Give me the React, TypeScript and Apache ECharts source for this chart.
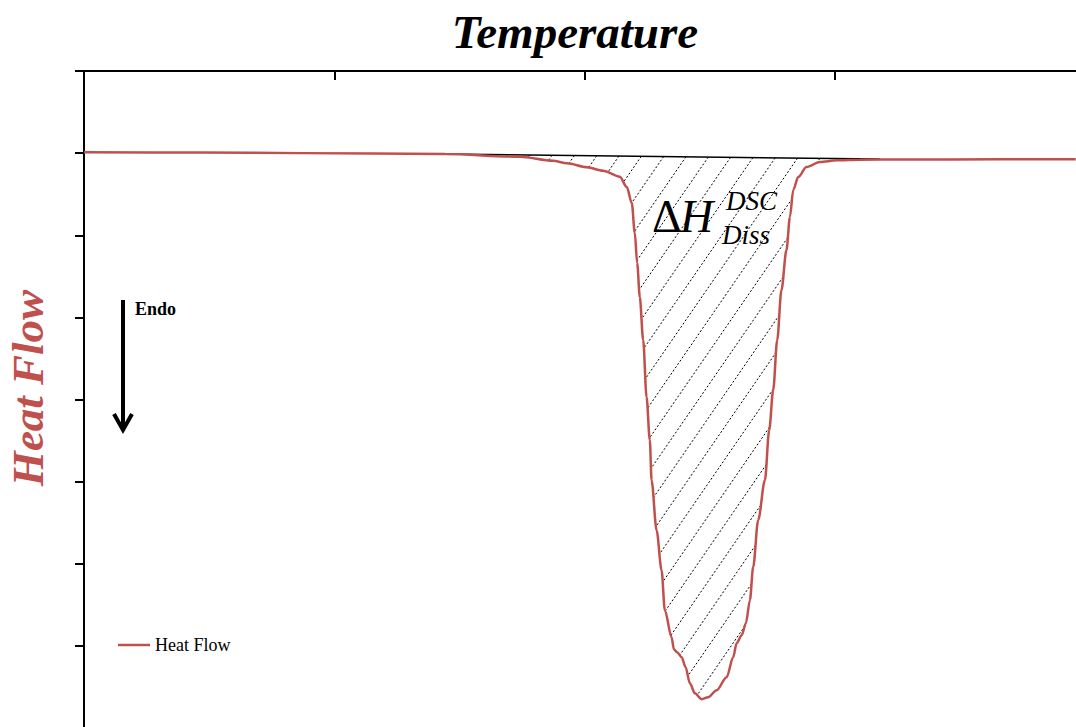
import React, { useEffect, useRef } from "react";
import * as echarts from "echarts";

// Temperature (arbitrary units, tick every 100) and heat flow (arbitrary units, tick every 1)
const temperature = [
  0, 46.3, 86.3, 144.2, 174.2, 187.4, 193.0, 201.0, 207.4, 214.1, 216.9, 218.9, 220.1,
  221.05, 222.1, 223.45, 224.8, 226.1, 226.8, 228.8, 230.8, 232.1, 234.8, 235.7, 237.0,
  238.8, 240.4, 242.1, 244.1, 246.8, 249.4, 252.8, 256.8, 259.4, 260.8, 262.8, 264.5,
  266.1, 267.4, 269.4, 272.1, 273.8, 275.4, 277.0, 278.7, 280.7, 282.1, 283.4, 285.4,
  288.7, 294.1, 300.8, 310.0, 326.0, 366.0, 396.3,
];
const heatFlow = [
  0.01, 0.007, 0.0, -0.011, -0.044, -0.093, -0.124, -0.173, -0.214, -0.287, -0.413,
  -0.608, -0.973, -1.339, -1.753, -2.277, -2.971, -3.495, -3.982, -4.591, -5.078,
  -5.566, -5.894, -6.04, -6.077, -6.138, -6.26, -6.455, -6.577, -6.649, -6.625, -6.54,
  -6.382, -6.138, -5.967, -5.87, -5.724, -5.443, -5.041, -4.469, -3.982, -3.373,
  -2.886, -2.277, -1.667, -1.18, -0.778, -0.449, -0.291, -0.169, -0.108, -0.088, -0.08,
  -0.078, -0.075, -0.075,
];
// Integration baseline (start and end points)
const baselineTemp = [144.2, 318.0];
const baselineHeat = [-0.011, -0.072];

const xTicks = [0, 100, 200, 300, 400];
const yTicks = [-7, -6, -5, -4, -3, -2, -1, 0, 1];

const RED = "#c0504d";
const SERIF = "'Liberation Serif', 'Times New Roman', serif";

export default function App() {
  const ref = useRef<HTMLDivElement>(null);

  useEffect(() => {
    if (!ref.current) return;
    const chart = echarts.init(ref.current, null, { renderer: "svg" });

    const curveData = temperature.map((t, i) => [t, heatFlow[i]]);
    const baseData = baselineTemp.map((t, i) => [t, baselineHeat[i]]);

    const renderHatch = (params: any, api: any) => {
      const b0 = api.coord([baselineTemp[0], baselineHeat[0]]);
      const b1 = api.coord([baselineTemp[1], baselineHeat[1]]);
      const poly: number[][] = [b0];
      for (let i = 0; i < temperature.length; i++) {
        if (temperature[i] > baselineTemp[0] && temperature[i] < baselineTemp[1]) {
          poly.push(api.coord([temperature[i], heatFlow[i]]));
        }
      }
      poly.push(b1);
      const k = 1.45;
      const f = (p: number[]) => p[0] + p[1] / k;
      let cMin = Infinity;
      let cMax = -Infinity;
      poly.forEach((p) => {
        cMin = Math.min(cMin, f(p));
        cMax = Math.max(cMax, f(p));
      });
      const step = 22.5;
      const c0 = 996.6;
      const nStart = Math.ceil((cMin - c0) / step);
      const nEnd = Math.floor((cMax - c0) / step);
      const children: any[] = [];
      for (let n = nStart; n <= nEnd; n++) {
        const c = c0 + n * step;
        const pts: number[][] = [];
        for (let i = 0; i < poly.length; i++) {
          const p1 = poly[i];
          const p2 = poly[(i + 1) % poly.length];
          const f1 = f(p1) - c;
          const f2 = f(p2) - c;
          if ((f1 < 0 && f2 >= 0) || (f1 >= 0 && f2 < 0)) {
            const t = f1 / (f1 - f2);
            pts.push([p1[0] + t * (p2[0] - p1[0]), p1[1] + t * (p2[1] - p1[1])]);
          }
        }
        pts.sort((a, b) => a[1] - b[1]);
        for (let j = 0; j + 1 < pts.length; j += 2) {
          children.push({
            type: "line",
            shape: { x1: pts[j][0], y1: pts[j][1], x2: pts[j + 1][0], y2: pts[j + 1][1] },
            style: { stroke: "#000", lineWidth: 1, lineDash: [2, 2] },
          });
        }
      }
      return { type: "group", children };
    };

    chart.setOption({
      animation: false,
      backgroundColor: "#fff",
      grid: { left: 84, width: 1001, top: 71, height: 657, outerBoundsMode: "none" },
      xAxis: {
        type: "value",
        position: "top",
        min: xTicks[0],
        max: xTicks[xTicks.length - 1],
        interval: 100,
        axisLine: { show: true, onZero: false, lineStyle: { color: "#000", width: 2 } },
        axisTick: { show: true, inside: true, length: 9, lineStyle: { color: "#000", width: 2 } },
        axisLabel: { show: false },
        splitLine: { show: false },
      },
      yAxis: {
        type: "value",
        min: yTicks[0],
        max: yTicks[yTicks.length - 1],
        interval: 1,
        axisLine: { show: true, onZero: false, lineStyle: { color: "#000", width: 2 } },
        axisTick: { show: true, inside: false, length: 9, lineStyle: { color: "#000", width: 2 } },
        axisLabel: { show: false },
        splitLine: { show: false },
      },
      legend: {
        data: [{ name: "Heat Flow", icon: "rect" }],
        left: 113,
        top: 631,
        itemWidth: 32,
        itemHeight: 2.5,
        textStyle: { fontFamily: SERIF, fontSize: 18, color: "#000" },
      },
      graphic: [
        {
          type: "text",
          x: 575,
          y: 32,
          style: {
            text: "Temperature",
            font: `italic bold 47px ${SERIF}`,
            fill: "#000",
            textAlign: "center",
            textVerticalAlign: "middle",
          },
        },
        {
          type: "text",
          x: 28,
          y: 388,
          rotation: Math.PI / 2,
          style: {
            text: "Heat Flow",
            font: `italic bold 45px ${SERIF}`,
            fill: RED,
            textAlign: "center",
            textVerticalAlign: "middle",
          },
        },
        {
          type: "line",
          shape: { x1: 123, y1: 300, x2: 123, y2: 428 },
          style: { stroke: "#000", lineWidth: 4 },
        },
        {
          type: "polyline",
          shape: { points: [[114, 414], [123, 430], [132, 414]] },
          style: { stroke: "#000", lineWidth: 4, fill: "none" },
        },
        {
          type: "text",
          x: 135,
          y: 309,
          style: {
            text: "Endo",
            font: `bold 18px ${SERIF}`,
            fill: "#000",
            textAlign: "left",
            textVerticalAlign: "middle",
          },
        },
        {
          type: "text",
          x: 652,
          y: 216,
          style: {
            text: "\u0394",
            font: `46px ${SERIF}`,
            fill: "#000",
            textAlign: "left",
            textVerticalAlign: "middle",
          },
        },
        {
          type: "text",
          x: 680,
          y: 216,
          style: {
            text: "H",
            font: `italic 46px ${SERIF}`,
            fill: "#000",
            textAlign: "left",
            textVerticalAlign: "middle",
          },
        },
        {
          type: "text",
          x: 726,
          y: 201,
          style: {
            text: "DSC",
            font: `italic 27px ${SERIF}`,
            fill: "#000",
            textAlign: "left",
            textVerticalAlign: "middle",
          },
        },
        {
          type: "text",
          x: 722,
          y: 235,
          style: {
            text: "Diss",
            font: `italic 27px ${SERIF}`,
            fill: "#000",
            textAlign: "left",
            textVerticalAlign: "middle",
          },
        },
      ],
      series: [
        {
          name: "Hatch",
          type: "custom",
          coordinateSystem: "cartesian2d",
          data: [[baselineTemp[0], baselineHeat[0]]],
          renderItem: renderHatch,
          silent: true,
          z: 1,
        },
        {
          name: "Baseline",
          type: "line",
          data: baseData,
          symbol: "none",
          lineStyle: { color: "#000", width: 1.5 },
          silent: true,
          z: 2,
        },
        {
          name: "Heat Flow",
          type: "line",
          data: curveData,
          symbol: "none",
          smooth: 0.3,
          smoothMonotone: "x",
          color: RED,
          lineStyle: { color: RED, width: 2.5 },
          z: 3,
        },
      ],
    });

    return () => chart.dispose();
  }, []);

  return (
    <div
      ref={ref}
      style={{ position: "absolute", left: 0, top: 0, width: 1076, height: 727 }}
    />
  );
}
